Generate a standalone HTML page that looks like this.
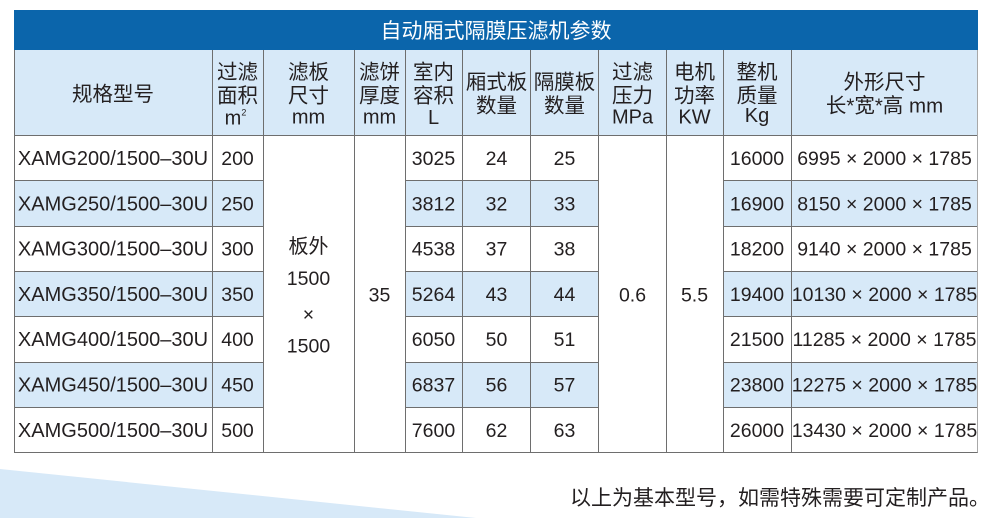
<!DOCTYPE html>
<html>
<head>
<meta charset="utf-8">
<style>
html,body{margin:0;padding:0;background:#fff;}
body{width:1004px;height:518px;overflow:hidden;position:relative;}
svg{position:absolute;left:0;top:0;}
.t{font-family:"Liberation Sans","Noto Sans CJK SC",sans-serif;fill:#231f20;}
</style>
</head>
<body>
<svg width="1004" height="518" viewBox="0 0 1004 518" xmlns="http://www.w3.org/2000/svg">
  <!-- wedge -->
  <polygon points="0,469 476,518 0,518" fill="#d7e9f8"/>

  <!-- title bar -->
  <rect x="14" y="10" width="964" height="40" fill="#0b65ab"/>
  <text x="496" y="38" text-anchor="middle" class="t" style="fill:#fff;font-size:21px;">自动厢式隔膜压滤机参数</text>

  <!-- header row bg -->
  <rect x="14" y="50" width="964" height="85" fill="#d7e9f8"/>

  <!-- striped rows (non-merged cols) -->
  <g fill="#d7e9f8">
    <rect x="14" y="180" width="249" height="46"/>
    <rect x="405" y="180" width="194" height="46"/>
    <rect x="723" y="180" width="255" height="46"/>
    <rect x="14" y="271" width="249" height="45"/>
    <rect x="405" y="271" width="194" height="45"/>
    <rect x="723" y="271" width="255" height="45"/>
    <rect x="14" y="362" width="249" height="45"/>
    <rect x="405" y="362" width="194" height="45"/>
    <rect x="723" y="362" width="255" height="45"/>
  </g>

  <!-- grid lines -->
  <g stroke="#6e6e6e" stroke-width="1" shape-rendering="crispEdges" fill="none">
    <line x1="14.5" y1="50" x2="14.5" y2="452.5"/>
    <line x1="212.5" y1="50" x2="212.5" y2="452.5"/>
    <line x1="263.5" y1="50" x2="263.5" y2="452.5"/>
    <line x1="354.5" y1="50" x2="354.5" y2="452.5"/>
    <line x1="405.5" y1="50" x2="405.5" y2="452.5"/>
    <line x1="462.5" y1="50" x2="462.5" y2="452.5"/>
    <line x1="530.5" y1="50" x2="530.5" y2="452.5"/>
    <line x1="598.5" y1="50" x2="598.5" y2="452.5"/>
    <line x1="666.5" y1="50" x2="666.5" y2="452.5"/>
    <line x1="723.5" y1="50" x2="723.5" y2="452.5"/>
    <line x1="791.5" y1="50" x2="791.5" y2="452.5"/>
    <line x1="14" y1="135.5" x2="978" y2="135.5"/>
    <line x1="14" y1="452.5" x2="978" y2="452.5"/>
    <!-- row separators -->
    <path d="M14 180.5H263M405 180.5H599M723 180.5H978
             M14 226.5H263M405 226.5H599M723 226.5H978
             M14 271.5H263M405 271.5H599M723 271.5H978
             M14 316.5H263M405 316.5H599M723 316.5H978
             M14 362.5H263M405 362.5H599M723 362.5H978
             M14 407.5H263M405 407.5H599M723 407.5H978"/>
  </g>
  <line x1="977.5" y1="50" x2="977.5" y2="452.5" stroke="#a8a8a8" stroke-width="1" shape-rendering="crispEdges"/>

  <!-- header texts -->
  <g class="t" text-anchor="middle" style="font-size:20.5px;">
    <text x="113" y="101">规格型号</text>

    <text x="237.5" y="79">过滤</text>
    <text x="237.5" y="102.5">面积</text>
    <text x="235.5" y="124.5" style="font-size:20px;">m<tspan dy="-9" style="font-size:9px;">2</tspan></text>

    <text x="308.5" y="79">滤板</text>
    <text x="308.5" y="102.5">尺寸</text>
    <text x="308.5" y="123.5" style="font-size:20px;">mm</text>

    <text x="379.5" y="79">滤饼</text>
    <text x="379.5" y="102.5">厚度</text>
    <text x="379.5" y="123.5" style="font-size:20px;">mm</text>

    <text x="433.5" y="79">室内</text>
    <text x="433.5" y="102.5">容积</text>
    <text x="433.5" y="124" style="font-size:20px;">L</text>

    <text x="496.5" y="89">厢式板</text>
    <text x="496.5" y="112.5">数量</text>

    <text x="564.5" y="89">隔膜板</text>
    <text x="564.5" y="112.5">数量</text>

    <text x="632.5" y="79">过滤</text>
    <text x="632.5" y="102.5">压力</text>
    <text x="632.5" y="123.5" style="font-size:20px;">MPa</text>

    <text x="694.5" y="79">电机</text>
    <text x="694.5" y="102.5">功率</text>
    <text x="694.5" y="123.5" style="font-size:20px;">KW</text>

    <text x="757" y="79">整机</text>
    <text x="757" y="102.5">质量</text>
    <text x="757" y="122" style="font-size:20px;">Kg</text>

    <text x="884.5" y="89">外形尺寸</text>
    <text x="884.5" y="112.5">长*宽*高 mm</text>
  </g>

  <!-- body texts -->
  <g class="t" text-anchor="middle" style="font-size:19.5px;">
    <!-- row 1 -->
    <text x="113" y="165" style="font-size:20px;">XAMG200/1500–30U</text>
    <text x="237.5" y="165">200</text>
    <text x="433.5" y="165">3025</text>
    <text x="496.5" y="165">24</text>
    <text x="564.5" y="165">25</text>
    <text x="757" y="165">16000</text>
    <text x="884.5" y="165">6995 × 2000 × 1785</text>
    <!-- row 2 -->
    <text x="113" y="210.3" style="font-size:20px;">XAMG250/1500–30U</text>
    <text x="237.5" y="210.3">250</text>
    <text x="433.5" y="210.3">3812</text>
    <text x="496.5" y="210.3">32</text>
    <text x="564.5" y="210.3">33</text>
    <text x="757" y="210.3">16900</text>
    <text x="884.5" y="210.3">8150 × 2000 × 1785</text>
    <!-- row 3 -->
    <text x="113" y="255.6" style="font-size:20px;">XAMG300/1500–30U</text>
    <text x="237.5" y="255.6">300</text>
    <text x="433.5" y="255.6">4538</text>
    <text x="496.5" y="255.6">37</text>
    <text x="564.5" y="255.6">38</text>
    <text x="757" y="255.6">18200</text>
    <text x="884.5" y="255.6">9140 × 2000 × 1785</text>
    <!-- row 4 -->
    <text x="113" y="300.9" style="font-size:20px;">XAMG350/1500–30U</text>
    <text x="237.5" y="300.9">350</text>
    <text x="433.5" y="300.9">5264</text>
    <text x="496.5" y="300.9">43</text>
    <text x="564.5" y="300.9">44</text>
    <text x="757" y="300.9">19400</text>
    <text x="884.5" y="300.9">10130 × 2000 × 1785</text>
    <!-- row 5 -->
    <text x="113" y="346.2" style="font-size:20px;">XAMG400/1500–30U</text>
    <text x="237.5" y="346.2">400</text>
    <text x="433.5" y="346.2">6050</text>
    <text x="496.5" y="346.2">50</text>
    <text x="564.5" y="346.2">51</text>
    <text x="757" y="346.2">21500</text>
    <text x="884.5" y="346.2">11285 × 2000 × 1785</text>
    <!-- row 6 -->
    <text x="113" y="391.5" style="font-size:20px;">XAMG450/1500–30U</text>
    <text x="237.5" y="391.5">450</text>
    <text x="433.5" y="391.5">6837</text>
    <text x="496.5" y="391.5">56</text>
    <text x="564.5" y="391.5">57</text>
    <text x="757" y="391.5">23800</text>
    <text x="884.5" y="391.5">12275 × 2000 × 1785</text>
    <!-- row 7 -->
    <text x="113" y="436.8" style="font-size:20px;">XAMG500/1500–30U</text>
    <text x="237.5" y="436.8">500</text>
    <text x="433.5" y="436.8">7600</text>
    <text x="496.5" y="436.8">62</text>
    <text x="564.5" y="436.8">63</text>
    <text x="757" y="436.8">26000</text>
    <text x="884.5" y="436.8">13430 × 2000 × 1785</text>

    <!-- merged cells -->
    <text x="308.5" y="253" style="font-size:20px;">板外</text>
    <text x="308.5" y="285">1500</text>
    <text x="308.5" y="321">×</text>
    <text x="308.5" y="352.7">1500</text>
    <text x="379.5" y="301.5">35</text>
    <text x="632.5" y="301.5">0.6</text>
    <text x="694.5" y="301.5">5.5</text>
  </g>

  <!-- footer -->
  <text x="570" y="505" class="t" style="font-size:21px;">以上为基本型号，如需特殊需要可定制产品。</text>
</svg>
</body>
</html>
